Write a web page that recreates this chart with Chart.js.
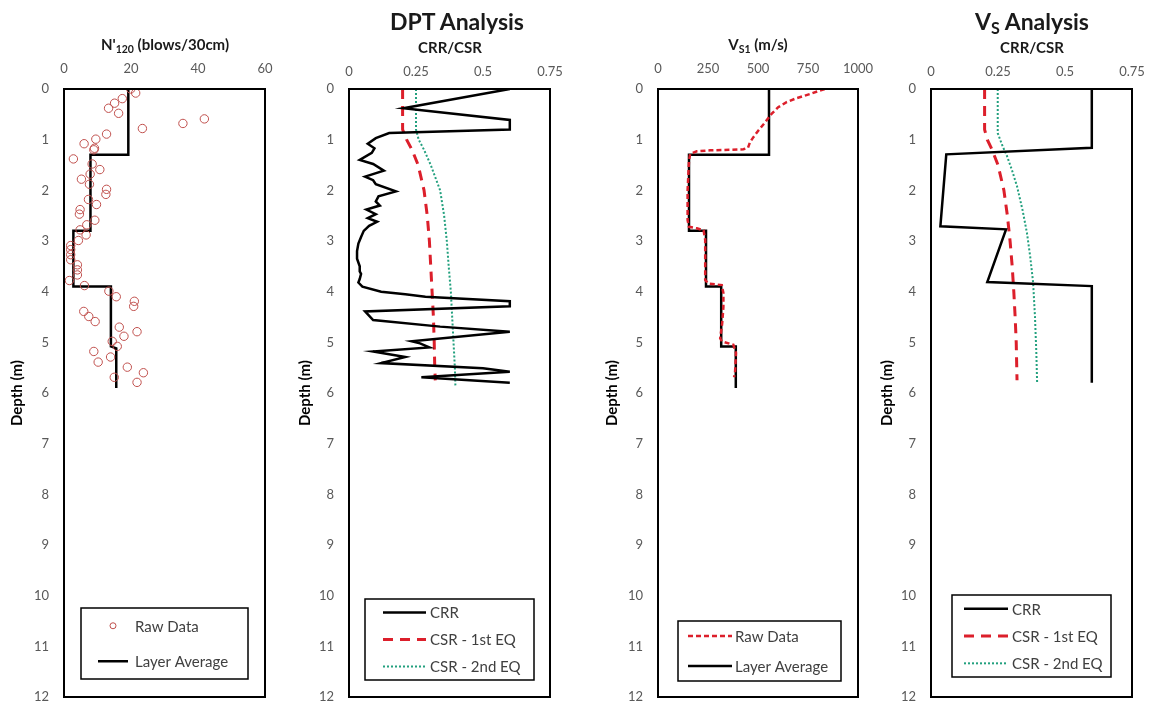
<!DOCTYPE html>
<html>
<head>
<meta charset="utf-8">
<script src="https://cdn.jsdelivr.net/npm/chart.js@4.4.1/dist/chart.umd.min.js"></script>
<style>
  body { margin: 0; background: #fff; font-family: Lato, "Noto Sans", sans-serif; }
  #wrap { position: relative; width: 1152px; height: 704px; overflow: hidden; }
  canvas { position: absolute; top: 0; }
  .ttl { position: absolute; width: 240px; text-align: center; font-weight: bold; color: #1a1a1a; white-space: nowrap; line-height: 1.2; }
  .ttl sub { font-size: 70%; vertical-align: -0.25em; line-height: 0; }
</style>
</head>
<body>
<div id="wrap">
  <canvas id="c1" width="290" height="704" style="left:0px"></canvas>
  <canvas id="c2" width="285" height="704" style="left:290px"></canvas>
  <canvas id="c3" width="290" height="704" style="left:590px"></canvas>
  <canvas id="c4" width="282" height="704" style="left:870px"></canvas>

  <div class="ttl" style="left:45px; top:35px; font-size:15px;">N'<sub>120</sub> (blows/30cm)</div>
  <div class="ttl" style="left:337px; top:8px; font-size:23px;">DPT Analysis</div>
  <div class="ttl" style="left:330px; top:38px; font-size:15px;">CRR/CSR</div>
  <div class="ttl" style="left:638px; top:35px; font-size:15px;">V<sub>S1</sub> (m/s)</div>
  <div class="ttl" style="left:912px; top:8px; font-size:23px;">V<sub>S</sub> Analysis</div>
  <div class="ttl" style="left:912px; top:38px; font-size:15px;">CRR/CSR</div>
</div>
<script>
// ---- panel 1: N'120 ----
const nDepth = [0,0.08,0.19,0.28,0.38,0.48,0.59,0.68,0.78,0.89,0.99,1.08,1.17,1.2,1.38,1.48,1.59,1.68,1.78,1.88,
  1.98,2.08,2.18,2.28,2.38,2.47,2.59,2.68,2.78,2.88,2.99,3.09,3.17,3.27,3.37,3.47,3.57,3.67,3.78,3.88,
  3.99,4.1,4.19,4.29,4.39,4.49,4.59,4.7,4.79,4.88,4.98,5.08,5.18,5.29,5.39,5.49,5.6,5.69,5.79];
const nRaw = [19.9,21.4,17.4,15.1,13.3,16.3,41.9,35.5,23.4,12.7,9.5,6.0,9.1,8.9,2.8,8.4,10.7,7.8,5.2,7.6,
  12.7,12.5,7.3,9.7,4.8,4.6,9.2,6.8,4.8,6.6,4.3,2.0,2.0,2.0,2.0,4.0,4.0,4.0,1.6,6.1,
  13.4,15.6,21.0,20.8,5.9,7.4,9.3,16.5,21.8,17.9,14.4,15.9,8.9,13.9,10.2,18.9,23.7,15.0,21.8];
const nLayerDepth = [0,1.3,1.3,2.8,2.8,3.9,3.9,5.08,5.12,5.9];
const nLayer = [19.2,19.2,7.9,7.9,2.8,2.8,14,14,15.6,15.6];

// ---- panel 2: DPT analysis ----
const dptCrrDepth = [0,0.38,0.61,0.8,0.87,0.97,1.08,1.17,1.26,1.4,1.48,1.61,1.73,1.8,1.88,2.02,2.12,2.22,2.3,2.38,
  2.47,2.55,2.62,2.7,2.8,2.92,3.05,3.2,3.35,3.5,3.6,3.65,3.75,3.82,3.9,4.0,4.05,4.1,4.19,4.29,
  4.39,4.56,4.69,4.79,4.98,5.02,5.1,5.18,5.29,5.41,5.51,5.58,5.69,5.8];
const dptCrr = [0.6,0.203,0.6,0.6,0.15,0.1,0.07,0.095,0.085,0.04,0.09,0.13,0.06,0.09,0.1,0.175,0.11,0.1,0.115,0.065,
  0.1,0.07,0.105,0.075,0.055,0.045,0.035,0.03,0.03,0.04,0.04,0.045,0.04,0.035,0.05,0.12,0.21,0.285,0.6,0.6,
  0.06,0.09,0.34,0.6,0.234,0.265,0.3,0.09,0.21,0.12,0.5,0.6,0.27,0.6];
const dptCsrDepth = [0,0.8,1.0,1.2,1.5,2.0,2.5,3.0,3.5,4.0,4.5,5.0,5.5,5.75];
const dptCsr1 = [0.2,0.2,0.215,0.235,0.258,0.28,0.292,0.3,0.305,0.31,0.315,0.318,0.32,0.322];
const dptCsr2Depth = [0,0.8,1.0,1.2,1.5,2.0,2.5,3.0,3.5,4.0,4.5,5.0,5.5,5.85];
const dptCsr2 = [0.25,0.25,0.26,0.28,0.305,0.34,0.355,0.365,0.372,0.38,0.385,0.39,0.395,0.397];

// ---- panel 3: Vs1 ----
const vsRawDepth = [0,0.03,0.1,0.18,0.26,0.36,0.49,0.66,0.82,0.95,1.05,1.16,1.19,1.2,1.21,1.23,1.28,1.41,2.0,2.59,
  2.72,2.75,2.79,2.98,3.64,3.77,3.84,3.87,4.03,4.3,4.62,4.92,4.98,5.05,5.21,5.61,5.69];
const vsRaw = [834,809,759,693,643,601,568,535,502,477,460,450,427,360,261,194,161,155,148,148,
  155,194,228,236,236,236,252,319,327,327,321,311,319,377,390,385,380];
const vsLayerDepth = [0,1.3,1.3,2.8,2.8,3.9,3.9,5.08,5.08,5.9];
const vsLayer = [555,555,155,155,240,240,316,316,389,389];

// ---- panel 4: Vs analysis ----
const vCrrDepth = [0,1.16,1.29,2.71,2.77,3.81,3.89,5.8];
const vCrr = [0.6,0.6,0.057,0.035,0.28,0.21,0.6,0.6];
const vCsrDepth = [0,0.8,1.0,1.2,1.5,2.0,2.5,3.0,3.5,4.0,4.5,5.0,5.5,5.75];
const vCsr1 = [0.2,0.2,0.21,0.228,0.25,0.272,0.285,0.295,0.303,0.309,0.314,0.318,0.32,0.321];
const vCsr2Depth = [0,0.87,1.1,1.33,1.6,1.92,2.4,2.84,3.3,3.82,4.5,5.2,5.8];
const vCsr2 = [0.249,0.249,0.265,0.284,0.302,0.321,0.342,0.358,0.37,0.381,0.388,0.393,0.396];

const pts = (xs, ys) => xs.map((v, i) => ({x: v, y: ys[i]}));

const BLACK = '#000000', RED = '#DC1F2B', GREEN = '#22A07E', MARK = '#C0504D';
const TICK = '#595959';
const FONT = 'Lato, "Noto Sans", sans-serif';

// frame around the plot area + boxed legend inside it
const frameLegend = {
  id: 'frameLegend',
  afterDraw(chart, args, o) {
    const {ctx, chartArea: a} = chart;
    ctx.save();
    ctx.strokeStyle = '#000';
    ctx.lineWidth = 2;
    ctx.strokeRect(a.left, a.top, a.right - a.left, a.bottom - a.top);

    const x0 = a.left + o.inset[0], x1 = a.right - o.inset[1];
    const y1 = a.bottom - o.inset[2], y0 = y1 - o.h;
    ctx.fillStyle = '#fff';
    ctx.fillRect(x0, y0, x1 - x0, y1 - y0);
    ctx.lineWidth = 1.5;
    ctx.strokeRect(x0, y0, x1 - x0, y1 - y0);

    const sets = chart.data.datasets;
    ctx.font = '15px ' + FONT;
    ctx.textBaseline = 'middle';
    sets.forEach((ds, i) => {
      const cy = y0 + o.h * (i + 0.5) / sets.length;
      if (ds.showLine === false) {
        ctx.beginPath();
        ctx.setLineDash([]);
        ctx.lineWidth = 1;
        ctx.strokeStyle = ds.pointBorderColor;
        ctx.arc(x0 + (o.s0 + o.s1) / 2, cy, 3, 0, Math.PI * 2);
        ctx.stroke();
      } else {
        ctx.beginPath();
        ctx.setLineDash(ds.borderDash || []);
        ctx.lineWidth = ds.borderWidth;
        ctx.strokeStyle = ds.borderColor;
        ctx.moveTo(x0 + o.s0, cy);
        ctx.lineTo(x0 + o.s1, cy);
        ctx.stroke();
      }
      ctx.setLineDash([]);
      ctx.fillStyle = '#404040';
      ctx.fillText(ds.label, x0 + o.tx, cy + 1);
    });
    ctx.restore();
  }
};

function scales(xmax, xstep, yWidth, titlePad, xPad) {
  const tickFont = {family: FONT, size: 13};
  return {
    x: {
      type: 'linear', position: 'top', min: 0, max: xmax,
      grid: {display: false, drawTicks: false}, border: {display: false},
      ticks: {stepSize: xstep, padding: xPad, color: TICK, font: tickFont, maxRotation: 0, autoSkip: false,
              callback: v => String(v)},
      afterFit: s => { s.height = 89; s.paddingLeft = 0; s.paddingRight = 0; }
    },
    y: {
      type: 'linear', position: 'left', reverse: true, min: 0, max: 12,
      grid: {display: false, drawTicks: false}, border: {display: false},
      ticks: {stepSize: 1, padding: 15, color: TICK, font: tickFont, callback: v => String(v)},
      title: {display: true, text: 'Depth (m)', color: '#000',
              font: {family: FONT, size: 15, weight: 'bold'},
              padding: {top: titlePad, bottom: 0}},
      afterFit: s => { s.width = yWidth; s.paddingTop = 0; s.paddingBottom = 0; }
    }
  };
}

function line(label, xs, ys, color, width, dash) {
  return {label: label, data: pts(xs, ys), showLine: true, borderColor: color, borderWidth: width,
          borderDash: dash, pointRadius: 0, fill: false, tension: 0};
}

function make(id, datasets, sc, pad, legend) {
  return new Chart(document.getElementById(id), {
    type: 'scatter',
    data: {datasets: datasets},
    options: {
      responsive: false,
      animation: false,
      layout: {padding: pad},
      scales: sc,
      plugins: {legend: {display: false}, tooltip: {enabled: false}, frameLegend: legend}
    },
    plugins: [frameLegend]
  });
}

make('c1', [
  {label: 'Raw Data', data: pts(nRaw, nDepth), showLine: false, pointStyle: 'circle', pointRadius: 4.2,
   pointBorderWidth: 1, pointBorderColor: MARK, pointBackgroundColor: 'rgba(0,0,0,0)'},
  line('Layer Average', nLayer, nLayerDepth, BLACK, 2.5, [])
], scales(60, 20, 64, 8, 12), {left: 0, right: 25, top: 0, bottom: 7},
   {inset: [17, 17, 18], h: 71, s0: 17, s1: 47, tx: 54});

make('c2', [
  line('CRR', dptCrr, dptCrrDepth, BLACK, 2.5, []),
  line('CSR - 1st EQ', dptCsr1, dptCsrDepth, RED, 3, [10, 7]),
  line('CSR - 2nd EQ', dptCsr2, dptCsr2Depth, GREEN, 2, [2, 2])
], scales(0.75, 0.25, 59, 6, 9), {left: 0, right: 25, top: 0, bottom: 7},
   {inset: [16, 16, 17], h: 81, s0: 18, s1: 61, tx: 65});

make('c3', [
  line('Raw Data', vsRaw, vsRawDepth, RED, 2.5, [5, 3]),
  line('Layer Average', vsLayer, vsLayerDepth, BLACK, 2.5, [])
], scales(1000, 250, 68, 13, 12), {left: 0, right: 22, top: 0, bottom: 7},
   {inset: [20, 17, 16], h: 60, s0: 10, s1: 54, tx: 57});

make('c4', [
  line('CRR', vCrr, vCrrDepth, BLACK, 2.5, []),
  line('CSR - 1st EQ', vCsr1, vCsrDepth, RED, 3, [10, 7]),
  line('CSR - 2nd EQ', vCsr2, vCsr2Depth, GREEN, 2, [2, 2])
], scales(0.75, 0.25, 61, 8, 9), {left: 0, right: 20, top: 0, bottom: 7},
   {inset: [21, 21, 20], h: 82, s0: 12, s1: 56, tx: 60});
</script>
</body>
</html>
